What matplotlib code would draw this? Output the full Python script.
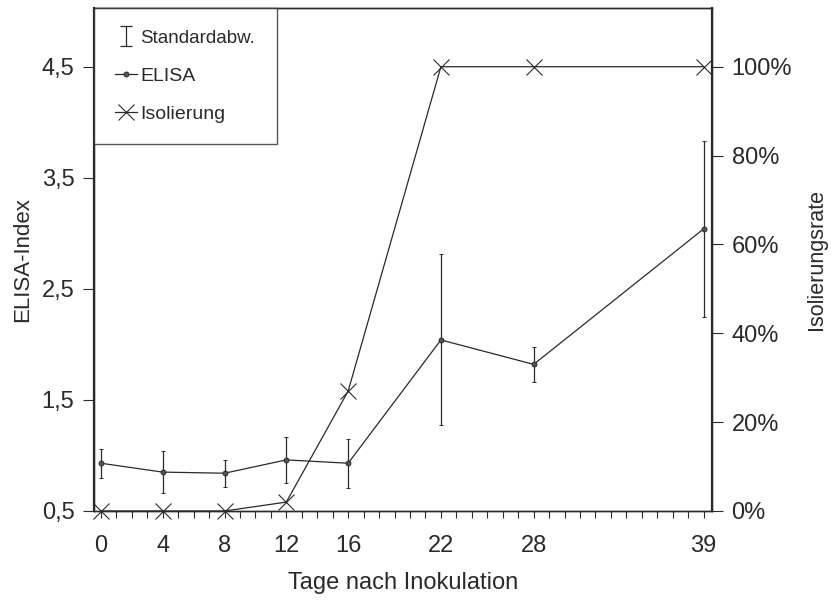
import matplotlib
matplotlib.use("Agg")
import matplotlib.pyplot as plt
from matplotlib.ticker import MultipleLocator, FuncFormatter
from matplotlib.container import ErrorbarContainer
from matplotlib.legend_handler import HandlerErrorbar

# data
days = [0, 4, 8, 12, 16, 22, 28, 39]
elisa = [0.93, 0.85, 0.84, 0.96, 0.93, 2.04, 1.82, 3.04]
elisa_sd = [0.13, 0.19, 0.12, 0.21, 0.22, 0.77, 0.16, 0.79]
isolierung = [0, 0, 0, 2, 27, 100, 100, 100]
left_ticks = [0.5, 1.5, 2.5, 3.5, 4.5]
left_ticklabels = ["0,5", "1,5", "2,5", "3,5", "4,5"]
right_ticks = [0, 20, 40, 60, 80, 100]

ink = "#2a2a2a"
plt.rcParams["font.family"] = ["Liberation Sans", "DejaVu Sans"]
plt.rcParams["text.color"] = ink
plt.rcParams["axes.labelcolor"] = ink
plt.rcParams["xtick.color"] = ink
plt.rcParams["ytick.color"] = ink

fig = plt.figure(figsize=(8.31, 6.04), dpi=100)
ax = fig.add_axes([0.113, 0.154, 0.744, 0.833])
ax2 = ax.twinx()

ax.set_xlim(-0.45, 39.55)
ax.set_ylim(0.5, 5.03)
# right axis: 0% on 0,5 and 100% on 4,5
ax2.set_ylim(0, (5.03 - 0.5) / 4.0 * 100)

eb = ax.errorbar(days, elisa, yerr=elisa_sd, color=ink, lw=0.9, elinewidth=0.9,
                 capsize=1.5, capthick=0.8, marker="o", ms=3.5, mfc="#555",
                 mec=ink, mew=0.7, zorder=3)
iso, = ax2.plot(days, isolierung, color=ink, lw=0.9, marker="x", ms=11,
                mew=0.8, clip_on=False, zorder=3)

# ticks
ax.set_yticks(left_ticks)
ax.set_yticklabels(left_ticklabels)
ax2.set_yticks(right_ticks)
ax2.yaxis.set_major_formatter(FuncFormatter(lambda v, p: "%d%%" % v))
ax.set_xticks(days)
ax.xaxis.set_minor_locator(MultipleLocator(1))
ax.tick_params(axis="x", which="both", direction="out", length=5, width=0.8,
               pad=12, labelsize=17)
ax.tick_params(axis="y", direction="out", length=8, width=0.8, pad=6,
               labelsize=17)
ax2.tick_params(axis="y", direction="out", length=8, width=0.8, pad=6,
                labelsize=17)

for a in (ax, ax2):
    for s in a.spines.values():
        s.set_color(ink)
        s.set_linewidth(1.0)
ax.spines["left"].set_linewidth(1.6)
ax2.spines["right"].set_linewidth(1.6)

ax.set_xlabel("Tage nach Inokulation", fontsize=17, labelpad=11)
ax.set_ylabel("ELISA-Index", fontsize=16, labelpad=6)
ax2.set_ylabel("Isolierungsrate", fontsize=15.5, labelpad=10)

# legend, the "I" handle is an errorbar kept outside the visible range
sd_handle = ax.errorbar([-10], [1], yerr=[0.5], color=ink, ls="none",
                        elinewidth=0.9, capsize=4, capthick=0.9)
leg = ax2.legend([sd_handle, eb.lines[0], iso],
                 ["Standardabw.", "ELISA", "Isolierung"],
                 handler_map={ErrorbarContainer: HandlerErrorbar(yerr_size=0.5)},
                 loc="upper left", bbox_to_anchor=(0, 1), borderaxespad=0,
                 fontsize=14, frameon=True, fancybox=False, handlelength=1.1,
                 handletextpad=0.2, labelspacing=1.05, borderpad=1.1)
leg.get_frame().set_edgecolor(ink)
leg.get_frame().set_linewidth(1.0)
leg.get_texts()[0].set_fontsize(13.5)

fig.savefig("out.png", dpi=100)
